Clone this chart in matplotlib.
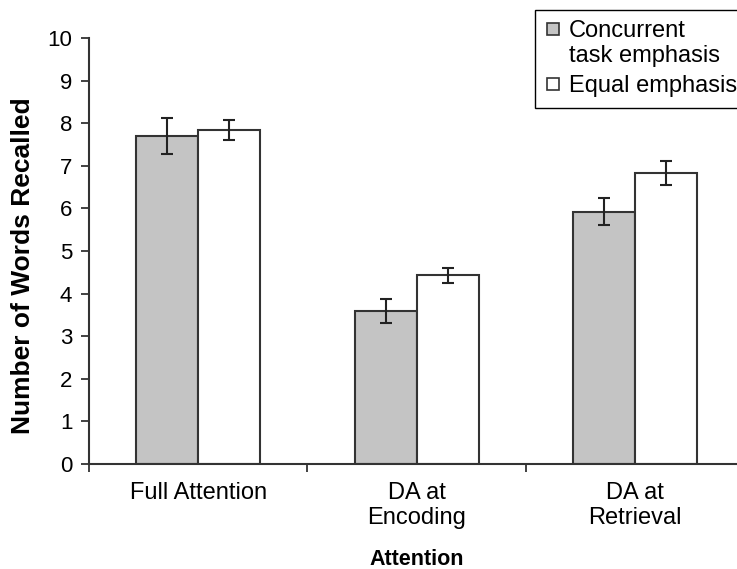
import matplotlib
matplotlib.use("Agg")
import matplotlib.pyplot as plt
from matplotlib.patches import Rectangle
import numpy as np

categories = ["Full Attention", "DA at\nEncoding", "DA at\nRetrieval"]
series_names = ["Concurrent\ntask emphasis", "Equal emphasis"]
concurrent = [7.70, 3.60, 5.92]
concurrent_err = [0.43, 0.28, 0.32]
equal = [7.84, 4.43, 6.83]
equal_err = [0.23, 0.17, 0.29]
yticks = list(range(0, 11))

plt.rcParams['font.family'] = ['Liberation Sans', 'DejaVu Sans']

W, H = 737, 569
fig = plt.figure(figsize=(W/100, H/100), dpi=100)
ax = fig.add_axes([89/W, 1-464/H, (744.5-89)/W, (464-38)/H])

edge = '#333333'
gray = '#c4c4c4'
x = np.arange(len(categories))
w = 0.284
ax.bar(x - w/2, concurrent, w, color=gray, edgecolor=edge, linewidth=1.5,
       yerr=concurrent_err, error_kw=dict(ecolor='#222222', elinewidth=1.5, capsize=4, capthick=1.5))
ax.bar(x + w/2, equal, w, color='white', edgecolor=edge, linewidth=1.5,
       yerr=equal_err, error_kw=dict(ecolor='#222222', elinewidth=1.5, capsize=4, capthick=1.5))

ax.set_xlim(-0.5, 2.5)
ax.set_ylim(0, 10)
ax.set_yticks(yticks)
ax.set_xticks([-0.5, 0.5, 1.5, 2.5])
ax.set_xticklabels([])
ax.set_xticks(x, minor=True)
ax.set_xticklabels(categories, minor=True, linespacing=1.2)
ax.tick_params(axis='x', which='minor', length=0, pad=13, labelsize=17)
ax.tick_params(axis='x', which='major', length=6, width=1.3, color=edge, direction='out')
ax.tick_params(axis='y', length=6, width=1.3, color=edge, labelsize=16, pad=6)

for s in ['top', 'right']:
    ax.spines[s].set_visible(False)
for s in ['left', 'bottom']:
    ax.spines[s].set_color(edge)
    ax.spines[s].set_linewidth(1.5)

ax.set_ylabel("Number of Words Recalled", fontsize=19, fontweight='bold')
ax.yaxis.set_label_coords(-(89-35)/(744.5-89), (464-266)/(464-38))
ax.set_xlabel("Attention", fontsize=15.5, fontweight='bold', labelpad=14)

# legend (drawn in figure pixel coordinates, clipped at right edge like the reference)
def fx(px):
    return px / W
def fy(py):
    return 1 - py / H

fig.patches.append(Rectangle((fx(535), fy(108)), fx(780) - fx(535), fy(10) - fy(108),
                             transform=fig.transFigure, facecolor='white',
                             edgecolor='black', linewidth=1.0, zorder=5))
fills = [gray, 'white']
square_centers = [28.5, 84]
for fc, cy in zip(fills, square_centers):
    fig.patches.append(Rectangle((fx(547), fy(cy + 6)), fx(559) - fx(547), fy(cy - 6) - fy(cy + 6),
                                 transform=fig.transFigure, facecolor=fc,
                                 edgecolor=edge, linewidth=1.2, zorder=6))
line1, line2 = series_names[0].split("\n")
fig.text(fx(569), fy(37), line1, fontsize=17, va='baseline', ha='left', zorder=7)
fig.text(fx(569), fy(62), line2, fontsize=17, va='baseline', ha='left', zorder=7)
fig.text(fx(569), fy(92), series_names[1], fontsize=17, va='baseline', ha='left', zorder=7)

fig.savefig("out.png", dpi=100)
